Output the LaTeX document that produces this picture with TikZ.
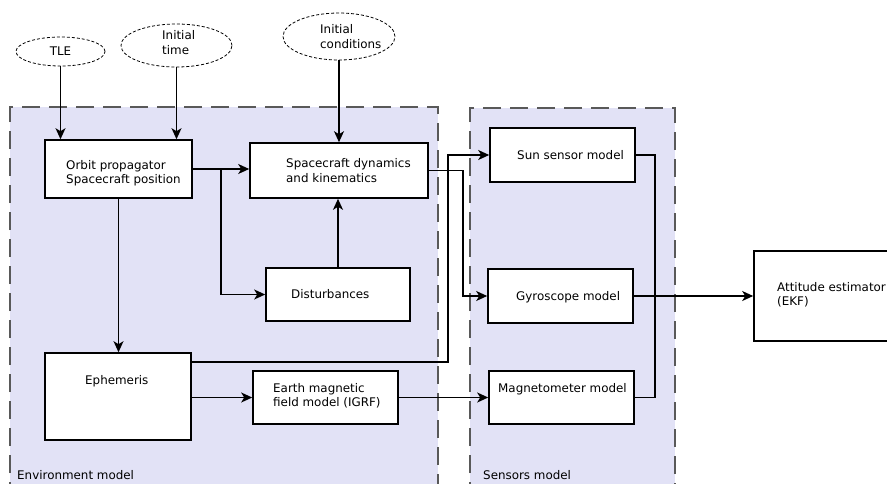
\documentclass[tikz,border=0pt]{standalone}
\usepackage{fontspec}
\setmainfont{DejaVu Sans}
\usetikzlibrary{arrows.meta,shapes.geometric}
\definecolor{regionfill}{RGB}{226,226,246}
\begin{document}
\begin{tikzpicture}[x=1pt,y=-1pt,
  font=\fontsize{11.9}{14.5}\selectfont,
  region/.style={fill=regionfill, draw=black!65, line width=1.5pt, dash pattern=on 18pt off 9pt},
  block/.style={draw, rectangle, fill=white, line width=1.6pt, inner sep=0pt},
  inputnode/.style={draw, ellipse, fill=white, line width=0.8pt, dash pattern=on 3pt off 2pt, inner sep=0pt},
  lbl/.style={anchor=base west, inner sep=0pt},
  flow/.style={line width=1.5pt, -{Stealth[length=11pt,width=10pt,inset=3pt]}},
  link/.style={line width=1.5pt}]
\useasboundingbox (0,0) rectangle (887,483);
\clip (0,0) rectangle (887,483);

% model regions (open at the bottom edge)
\draw[region] (10,500) -- (10,107) -- (438,107) -- (438,500);
\draw[region] (470,500) -- (470,108) -- (675,108) -- (675,500);
\node[lbl] (envlbl) at (17,479) {Environment model};
\node[lbl] (senslbl) at (483,479) {Sensors model};

% inputs
\node[inputnode, minimum width=89pt, minimum height=29pt] (tle) at (60.5,51.5) {TLE};
\node[inputnode, minimum width=111pt, minimum height=43pt] (itime) at (176.5,45.5) {};
\node[lbl] (itime1) at (162,39) {Initial};
\node[lbl] (itime2) at (162,54) {time};
\node[inputnode, minimum width=112pt, minimum height=47pt] (icond) at (339,36.5) {};
\node[lbl] (icond1) at (320,33) {Initial};
\node[lbl] (icond2) at (320,48) {conditions};

% blocks
\node[block, minimum width=147pt, minimum height=58pt] (orbit) at (118.5,169) {};
\node[lbl] (orbit1) at (66,169) {Orbit propagator};
\node[lbl] (orbit2) at (66,183) {Spacecraft position};

\node[block, minimum width=178pt, minimum height=55pt] (dyn) at (339,170.5) {};
\node[lbl] (dyn1) at (286,167) {Spacecraft dynamics};
\node[lbl] (dyn2) at (286,182) {and kinematics};

\node[block, minimum width=144pt, minimum height=53pt] (dist) at (338,294.5) {};
\node[lbl] (dist1) at (291,298) {Disturbances};

\node[block, minimum width=146pt, minimum height=87pt] (ephem) at (118,396.5) {};
\node[lbl] (ephem1) at (85,384) {Ephemeris};

\node[block, minimum width=145pt, minimum height=53pt] (earth) at (325.5,397.5) {};
\node[lbl] (earth1) at (273,392) {Earth magnetic};
\node[lbl] (earth2) at (273,406.5) {field model (IGRF)};

\node[block, minimum width=145pt, minimum height=54pt] (sun) at (562.5,155) {};
\node[lbl] (sun1) at (517,159) {Sun sensor model};

\node[block, minimum width=145pt, minimum height=54pt] (gyro) at (560.5,296) {};
\node[lbl] (gyro1) at (516,300) {Gyroscope model};

\node[block, minimum width=145pt, minimum height=53pt] (mag) at (561.5,397.5) {};
\node[lbl] (mag1) at (498,392) {Magnetometer model};

\node[block, minimum width=146pt, minimum height=90pt] (att) at (827,296) {};
\node[lbl] (att1) at (777,291) {Attitude estimator};
\node[lbl] (att2) at (777,305) {(EKF)};

% connections
\draw[flow] (tle.south) -- (tle.south |- orbit.north);
\draw[flow] (itime.south) -- (itime.south |- orbit.north);
\draw[flow] (icond.south) -- (icond.south |- dyn.north);

\coordinate (split) at (221,169);
\draw[flow] (orbit.east) -- (orbit.east -| dyn.west);
\draw[flow] (split) |- (dist.west);
\draw[flow] (dist.north) -- (dist.north |- dyn.south);
\draw[flow] (orbit.south) -- (orbit.south |- ephem.north);

\draw[flow] (dyn.east) -- ++(34,0) |- (gyro.west);
\draw[flow] ([yshift=-10pt]ephem.north east) -| ([xshift=-41pt]sun.west) -- (sun.west);
\draw[flow] (earth.west -| ephem.east) -- (earth.west);
\draw[flow] (earth.east) -- (mag.west);

\coordinate (bus) at (655,397.5);
\draw[link] (sun.east) -| (bus) -- (mag.east);
\draw[flow] (gyro.east) -- (att.west);
\end{tikzpicture}
\end{document}
